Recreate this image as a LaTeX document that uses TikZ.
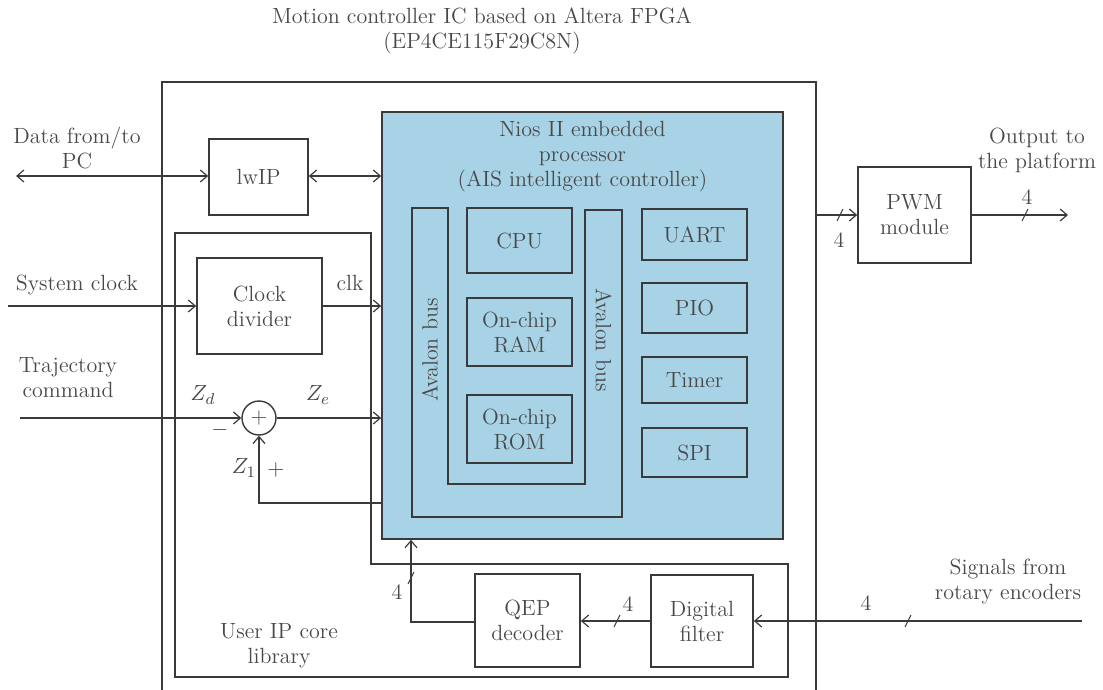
\documentclass[tikz,border=0pt]{standalone}
\usepackage{tikz}
\usetikzlibrary{arrows.meta, positioning, calc}
\usepackage{xcolor}
\definecolor{inkgray}{HTML}{3A3A3A}
\definecolor{textgray}{HTML}{484848}
\definecolor{niosblue}{HTML}{A8D3E6}
% short slanted mark on a 4-bit wire
\newcommand{\bustick}[1]{\draw[inkgray, line width=0.5pt] ($(#1)+(-3,6)$) -- ($(#1)+(3,-6)$);}

\begin{document}
\begin{tikzpicture}[x=0.5pt, y=-0.5pt,
    every node/.style={font=\fontsize{11}{12.5}\selectfont, text=textgray},
    blk/.style={draw=inkgray, line width=0.8pt, align=center, inner sep=1pt},
    wire/.style={inkgray, line width=0.6pt},
    >={Straight Barb[length=3.5pt, width=6pt]}]
    \useasboundingbox (0,0) rectangle (1103,690);

    % FPGA outline (open at the bottom)
    \draw[inkgray, line width=0.8pt] (162,690) -- (162,82) -- (816,82) -- (816,690);
    \node[align=center] (title) at (482,31) {Motion controller IC based on Altera FPGA\\(EP4CE115F29C8N)};

    % User IP core library outline
    \draw[inkgray, line width=0.8pt] (175,233) -- (371,233) -- (371,564) -- (788,564) -- (788,677) -- (175,677) -- cycle;
    \node[align=center] (iplib) at (279,646) {User IP core\\library};

    % Nios II processor
    \node[blk, fill=niosblue, minimum width=200.5pt, minimum height=213.5pt] (nios) at (582.5,325.5) {};
    \node[align=center] (niostitle) at (582.5,157) {Nios II embedded\\processor\\(AIS intelligent controller)};
    \draw[inkgray, line width=0.8pt] (412,208) -- (412,517) -- (622,517) -- (622,210) -- (585,210)
        -- (585,484) -- (448,484) -- (448,208) -- cycle;
    \node[rotate=90] (busleft) at (430,350) {Avalon bus};
    \node[rotate=-90] (busright) at (603.5,340) {Avalon bus};
    \node[blk, minimum width=52.5pt, minimum height=32.5pt] (cpu) at (519.5,240.5) {CPU};
    \node[blk, minimum width=52.5pt, minimum height=34pt] (ram) at (519.5,332) {On-chip\\RAM};
    \node[blk, minimum width=52.5pt, minimum height=34pt] (rom) at (519.5,429) {On-chip\\ROM};
    \node[blk, minimum width=52.5pt, minimum height=25.5pt] (uart) at (694.5,234.5) {UART};
    \node[blk, minimum width=52.5pt, minimum height=25pt] (pio) at (694.5,308) {PIO};
    \node[blk, minimum width=52.5pt, minimum height=23pt] (timer) at (694.5,380) {Timer};
    \node[blk, minimum width=52.5pt, minimum height=24.5pt] (spi) at (694.5,452.5) {SPI};

    % blocks around the processor
    \node[blk, minimum width=49.5pt, minimum height=38pt] (lwip) at (258.5,177) {lwIP};
    \node[blk, minimum width=62.5pt, minimum height=48pt] (clkdiv) at (259.5,306) {Clock\\divider};
    \node[draw=inkgray, line width=0.7pt, circle, minimum size=17pt, inner sep=0pt] (sum) at (259,418) {+};
    \node[blk, minimum width=56.5pt, minimum height=48pt] (pwm) at (914.5,215) {PWM\\module};
    \node[blk, minimum width=52.5pt, minimum height=46.5pt] (qep) at (527.5,620.5) {QEP\\decoder};
    \node[blk, minimum width=51pt, minimum height=46pt] (filter) at (702,621) {Digital\\filter};

    % free ends
    \coordinate (pc) at (16,176);
    \coordinate (sysclk) at (8,306);
    \coordinate (traj) at (20,418);
    \coordinate (fbk) at (382,503);
    \coordinate (pwmin) at (816,215);
    \coordinate (pwmout) at (1068,215);
    \coordinate (enc) at (1082,621);
    \coordinate (qepin) at (411,622);

    % connectors
    \draw[wire, <->] (pc) -- (lwip.west |- pc);
    \draw[wire, <->] (lwip.east |- pc) -- (nios.west |- pc);
    \draw[wire, ->] (sysclk) -- (clkdiv.west);
    \draw[wire, ->] (clkdiv.east) -- (nios.west |- clkdiv.east);
    \draw[wire, ->] (traj) -- (sum.west);
    \draw[wire, ->] (sum.east) -- (nios.west |- sum.east);
    \draw[wire, ->] (fbk) -| (sum.south);
    \draw[wire, ->] (qep.west |- qepin) -- (qepin) -- (qepin |- nios.south);
    \draw[wire, ->] (filter.west) -- (qep.east |- filter.west);
    \draw[wire, ->] (enc) -- (filter.east);
    \draw[wire, ->] (pwmin) -- (pwm.west);
    \draw[wire, ->] (pwm.east) -- (pwmout);
    \bustick{411,578}
    \bustick{617,621}
    \bustick{908,621}
    \bustick{840,215}
    \bustick{1025,215}

    % texts
    \node[align=center] (pclabel) at (77,148) {Data from/to\\PC};
    \node (clklabel) at (77,285) {System clock};
    \node[align=center] (trajlabel) at (68,378) {Trajectory\\command};
    \node (clk) at (350,283) {clk};
    \node (zd) at (203,395) {$Z_d$};
    \node (ze) at (318,395) {$Z_e$};
    \node (z1) at (244,468) {$Z_1$};
    \node (minus) at (220,430) {$-$};
    \node (plus) at (276,470) {$+$};
    \node[align=center] (outlabel) at (1037,150) {Output to\\the platform};
    \node[align=center] (enclabel) at (1008,581) {Signals from\\rotary encoders};
    \node (n1) at (839,240) {4};
    \node (n2) at (1027,197) {4};
    \node (n3) at (628,604) {4};
    \node (n4) at (397,592) {4};
    \node (n5) at (866,603) {4};
\end{tikzpicture}
\end{document}
